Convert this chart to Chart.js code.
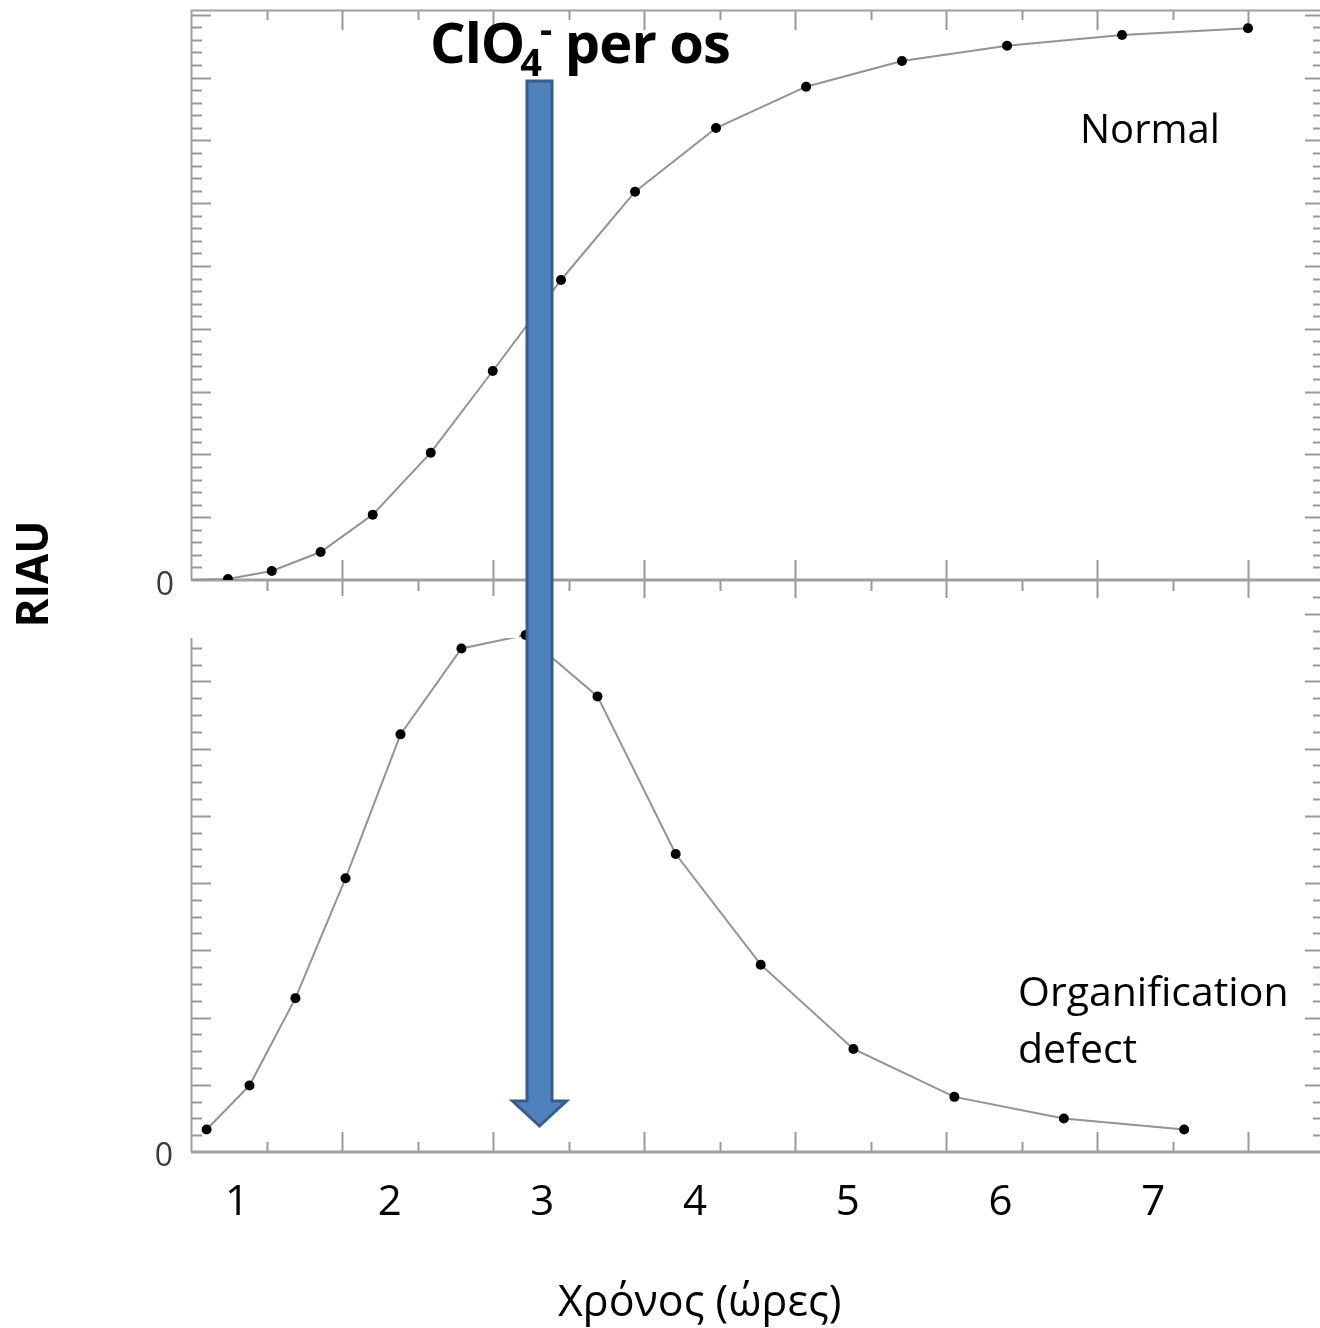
<!DOCTYPE html>
<html>
<head>
<meta charset="utf-8">
<script src="https://cdn.jsdelivr.net/npm/chart.js@4.4.1/dist/chart.umd.min.js"></script>
<style>
  html, body { margin: 0; padding: 0; background: #fff; overflow: hidden; }
  #page { position: relative; width: 1320px; height: 1328px; overflow: hidden; font-family: 'Open Sans', sans-serif; color: #000; }
  canvas { position: absolute; left: 0; top: 0; }
  #patch { position: absolute; left: 185px; top: 596px; width: 334px; height: 42px; background: #fff; }
  #arrow { position: absolute; left: 0; top: 0; }
  .txt { position: absolute; white-space: nowrap; line-height: 1; }
  #titulo { left: 430px; top: 13px; font-size: 56px; font-weight: 700; letter-spacing: -1px; }
  #titulo sub { font-size: 38px; line-height: 0; vertical-align: -13px; letter-spacing: 0; margin-left: -4px; }
  #titulo sup { font-size: 38px; line-height: 0; vertical-align: 20px; margin-left: -2px; }
  #lblNormal { left: 1080px; top: 108px; font-size: 40px; }
  #lblDefect { left: 1018px; top: 962px; font-size: 41px; line-height: 57px; }
  #ejeX { left: 558px; top: 1278px; font-size: 43px; }
  #ejeY { left: 31px; top: 574px; font-size: 44px; font-weight: 700; transform: translate(-50%, -50%) rotate(-90deg); }
</style>
</head>
<body>
<div id="page">
  <canvas id="chartNormal" width="1322" height="610"></canvas>
  <canvas id="chartDefect" width="1322" height="1328"></canvas>
  <div id="patch"></div>
  <svg id="arrow" width="1320" height="1328">
    <polygon points="527,81 552,81 552,1101 566.5,1101 539.5,1126 512.5,1101 527,1101"
             fill="#4F81BD" stroke="#385D8A" stroke-width="3" stroke-linejoin="miter"/>
  </svg>
  <div class="txt" id="titulo">ClO<sub>4</sub><sup>-</sup> per os</div>
  <div class="txt" id="lblNormal">Normal</div>
  <div class="txt" id="lblDefect">Organification<br>defect</div>
  <div class="txt" id="ejeX">Χρόνος (ώρες)</div>
  <div class="txt" id="ejeY">RIAU</div>
</div>
<script>
// Datos (x en horas, y en unidades RIAU arbitrarias)
const normalHoras = [0.699, 0.941, 1.228, 1.548, 1.889, 2.269, 2.675, 3.122, 3.607, 4.137, 4.727, 5.355, 6.043, 6.796, 7.621];
const normalRiau  = [0, 0.016, 0.143, 0.446, 1.040, 2.027, 3.328, 4.777, 6.183, 7.197, 7.855, 8.264, 8.508, 8.678, 8.785];

const defectoHoras = [0.801, 1.082, 1.383, 1.711, 2.071, 2.470, 2.890, 3.361, 3.873, 4.430, 5.037, 5.698, 6.415, 7.203];
const defectoRiau  = [0.334, 0.988, 2.288, 4.071, 6.211, 7.489, 7.689, 6.776, 4.431, 2.786, 1.533, 0.820, 0.498, 0.334];

const horasTicks = [1, 2, 3, 4, 5, 6, 7];
const ceroTick = [0];

// marcas de los ejes dibujadas hacia dentro, como en la figura original
const marcoEjes = {
    id: 'marcoEjes',
    beforeDatasetsDraw(chart, args, opts) {
        const ctx = chart.ctx;
        const a = chart.chartArea;
        const xs = chart.scales.xt;
        const ys = chart.scales.y;
        ctx.save();
        ctx.lineCap = 'butt';
        ctx.strokeStyle = '#999';
        ctx.lineWidth = 2;

        const nY = Math.floor(ys.max / opts.yStep + 1e-6);
        for (let i = 1; i <= nY; i++) {
            const py = Math.round(ys.getPixelForValue(i * opts.yStep)) + 0.5;
            const major = i % opts.yMajor === 0;
            ctx.beginPath();
            ctx.moveTo(a.left, py);
            ctx.lineTo(a.left + (major ? 20 : 11), py);
            ctx.moveTo(a.right, py);
            ctx.lineTo(a.right - (major ? 16 : 8), py);
            ctx.stroke();
        }

        const nX = Math.floor(xs.max / 0.5 + 1e-6);
        for (let i = 1; i <= nX; i++) {
            const px = Math.round(xs.getPixelForValue(i * 0.5)) + 0.5;
            const major = i % 2 === 0;
            ctx.beginPath();
            if (opts.cruzado) {
                if (major) {
                    ctx.moveTo(px, a.bottom - 20);
                    ctx.lineTo(px, a.bottom + 18);
                } else {
                    ctx.moveTo(px, a.bottom);
                    ctx.lineTo(px, a.bottom + 11);
                }
                ctx.moveTo(px, a.top);
                ctx.lineTo(px, a.top + (major ? 20 : 10));
            } else {
                ctx.moveTo(px, a.bottom);
                ctx.lineTo(px, a.bottom - (major ? 20 : 10));
            }
            ctx.stroke();
        }

        ctx.strokeStyle = '#a0a0a0';
        ctx.beginPath();
        ctx.moveTo(a.left + 0.5, a.top);
        ctx.lineTo(a.left + 0.5, a.bottom);
        ctx.stroke();
        if (opts.cruzado) {
            ctx.beginPath();
            ctx.moveTo(a.left, a.top + 0.5);
            ctx.lineTo(a.right, a.top + 0.5);
            ctx.stroke();
        }
        ctx.lineWidth = 3;
        ctx.beginPath();
        ctx.moveTo(a.left, a.bottom);
        ctx.lineTo(a.right, a.bottom);
        ctx.stroke();
        ctx.restore();
    }
};

function puntos(xs, ys) {
    return xs.map((x, i) => ({ x: x, y: ys[i] }));
}

// quita el relleno automático que Chart.js añade por las etiquetas
function sinRelleno(s) {
    s.paddingTop = 0;
    s.paddingBottom = 0;
    s.paddingLeft = 0;
    s.paddingRight = 0;
}

const ejeHoras = {
    type: 'linear',
    min: 0.699,
    max: 8.099
};

// Panel superior: Normal
const ctxNormal = document.getElementById('chartNormal');
const chartNormal = new Chart(ctxNormal, {
    type: 'line',
    data: {
        datasets: [{
            label: 'Normal',
            data: puntos(normalHoras, normalRiau),
            borderColor: '#939393',
            borderWidth: 2,
            tension: 0,
            pointRadius: (c) => c.dataIndex === 0 ? 0 : 5,
            pointBackgroundColor: '#000',
            pointBorderWidth: 0
        }]
    },
    options: {
        responsive: false,
        animation: false,
        layout: { autoPadding: false, padding: { top: 10, right: 1, bottom: 30, left: 0 } },
        scales: {
            x: Object.assign({ display: false, afterFit: sinRelleno }, ejeHoras),
            xt: { type: 'linear', display: false, min: 0, max: 7.4834, afterFit: sinRelleno },
            y: {
                type: 'linear',
                min: 0,
                max: 9.076,
                afterBuildTicks: (s) => { s.ticks = ceroTick.map(v => ({ value: v })); },
                afterFit: (s) => { sinRelleno(s); s.width = 191; },
                grid: { display: false, drawTicks: false },
                border: { display: false },
                ticks: {
                    padding: 17,
                    labelOffset: 6,
                    color: '#3a3a3a',
                    font: { family: 'Open Sans', size: 32 },
                    callback: (v) => String(v)
                }
            }
        },
        plugins: {
            legend: { display: false },
            tooltip: { enabled: false },
            marcoEjes: { yStep: 0.2, yMajor: 5, cruzado: true }
        }
    },
    plugins: [marcoEjes]
});

// Panel inferior: Organification defect
const ctxDefecto = document.getElementById('chartDefect');
const chartDefecto = new Chart(ctxDefecto, {
    type: 'line',
    data: {
        datasets: [{
            label: 'Organification defect',
            data: puntos(defectoHoras, defectoRiau),
            borderColor: '#939393',
            borderWidth: 2,
            tension: 0,
            pointRadius: 5,
            pointBackgroundColor: '#000',
            pointBorderWidth: 0
        }]
    },
    options: {
        responsive: false,
        animation: false,
        layout: { autoPadding: false, padding: { top: 597, right: 1, bottom: 0, left: 0 } },
        scales: {
            x: Object.assign({
                position: 'bottom',
                afterBuildTicks: (s) => { s.ticks = horasTicks.map(v => ({ value: v })); },
                afterFit: (s) => { sinRelleno(s); s.height = 176; },
                grid: { display: false, drawTicks: false },
                border: { display: false },
                ticks: {
                    padding: 26,
                    autoSkip: false,
                    maxRotation: 0,
                    color: '#000',
                    font: { family: 'Open Sans', size: 42 },
                    callback: (v) => String(v)
                }
            }, ejeHoras),
            xt: { type: 'linear', display: false, min: 0, max: 7.4834, afterFit: sinRelleno },
            y: {
                type: 'linear',
                min: 0,
                max: 8.254,
                afterBuildTicks: (s) => { s.ticks = ceroTick.map(v => ({ value: v })); },
                afterFit: (s) => { sinRelleno(s); s.width = 191; },
                grid: { display: false, drawTicks: false },
                border: { display: false },
                ticks: {
                    padding: 18,
                    labelOffset: 5,
                    color: '#3a3a3a',
                    font: { family: 'Open Sans', size: 32 },
                    callback: (v) => String(v)
                }
            }
        },
        plugins: {
            legend: { display: false },
            tooltip: { enabled: false },
            marcoEjes: { yStep: 0.25, yMajor: 4, cruzado: false }
        }
    },
    plugins: [marcoEjes]
});
</script>
</body>
</html>
